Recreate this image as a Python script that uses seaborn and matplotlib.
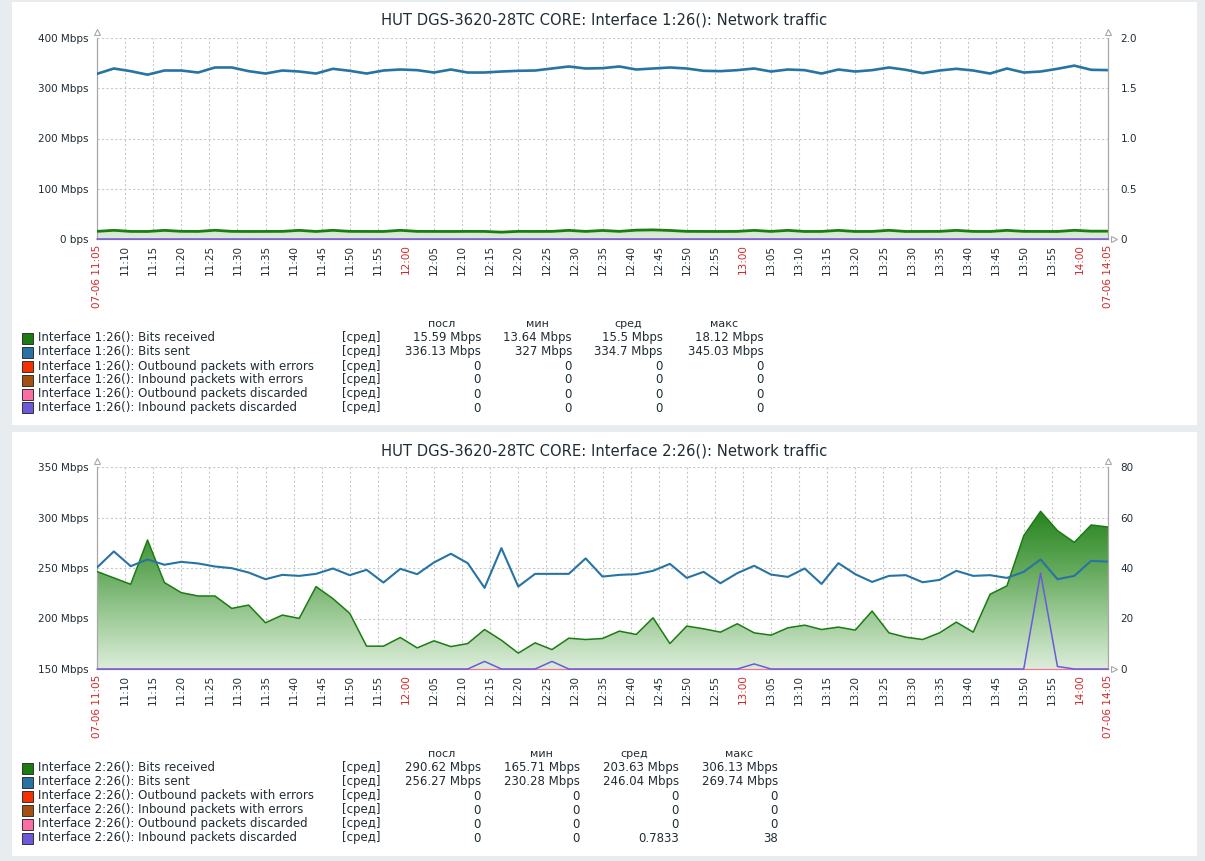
import numpy as np
import pandas as pd
import matplotlib
matplotlib.use("Agg")
import matplotlib.pyplot as plt
import matplotlib.dates as mdates
from matplotlib.colors import LinearSegmentedColormap
from matplotlib.patches import Rectangle
import seaborn as sns

# one sample every 3 minutes, 07-06 11:05 .. 14:05
times = pd.date_range("2023-07-06 11:05", "2023-07-06 14:05", freq="3min")
tick_times = pd.date_range("2023-07-06 11:05", "2023-07-06 14:05", freq="5min")

# Interface 1:26 (Mbps)
if1_received = [15.2, 17.3, 15.1, 15.0, 17.2, 15.3, 15.1, 17.4, 15.2, 15.0,
                15.1, 15.2, 17.2, 15.0, 17.3, 15.2, 15.1, 15.0, 17.3, 15.2,
                15.1, 15.0, 15.2, 15.1, 13.64, 15.2, 15.1, 15.2, 17.2, 15.1,
                17.0, 15.2, 17.6, 18.12, 17.0, 15.2, 15.1, 15.0, 15.2, 17.2,
                15.1, 17.2, 15.0, 15.1, 17.2, 15.0, 15.1, 17.3, 15.0, 15.1,
                15.2, 17.2, 15.1, 15.0, 17.2, 15.2, 15.1, 15.0, 17.3, 15.6, 15.59]
if1_sent = [328.7, 339.3, 334.0, 327.0, 335.3, 335.3, 331.3, 341.3, 341.3, 334.0,
            329.3, 335.3, 333.3, 329.3, 338.7, 334.7, 329.3, 335.3, 337.3, 336.0,
            331.3, 337.3, 331.3, 331.3, 333.3, 334.7, 335.3, 339.3, 343.3, 339.3,
            340.0, 343.3, 337.3, 339.3, 341.3, 339.3, 334.7, 334.0, 336.0, 339.3,
            333.3, 337.3, 336.0, 329.3, 337.3, 333.3, 336.0, 341.3, 336.7, 330.0,
            335.3, 338.7, 335.3, 329.3, 339.3, 331.3, 333.3, 338.7, 345.0, 336.7, 336.1]

# Interface 2:26 (Mbps), discarded packets on the right axis
if2_received = [246.5, 240.2, 233.9, 277.7, 235.6, 225.6, 222.3, 222.3, 210.0, 213.3,
                195.8, 203.4, 200.1, 231.6, 219.7, 205.1, 172.6, 172.6, 181.2, 170.9,
                177.9, 172.2, 175.2, 189.1, 178.5, 165.7, 175.9, 169.2, 180.5, 179.2,
                180.2, 187.5, 184.2, 200.7, 175.2, 192.5, 189.8, 186.5, 194.8, 185.8,
                183.5, 190.8, 193.4, 189.1, 191.5, 188.5, 207.4, 185.8, 181.5, 179.2,
                185.8, 196.4, 186.5, 224.0, 232.3, 282.0, 306.1, 287.0, 275.4, 292.6, 290.6]
if2_sent = [250.5, 266.4, 251.8, 258.5, 253.2, 256.1, 254.5, 251.5, 249.8, 245.5,
            238.9, 243.2, 242.2, 244.2, 249.5, 242.9, 248.2, 235.6, 249.2, 243.9,
            255.5, 264.1, 254.8, 230.3, 269.7, 231.6, 244.2, 244.2, 244.2, 259.5,
            241.5, 243.2, 243.9, 247.2, 254.1, 240.2, 246.2, 234.9, 244.9, 252.2,
            243.5, 241.2, 249.5, 234.2, 254.8, 243.9, 236.2, 242.2, 242.9, 235.9,
            238.2, 247.2, 242.2, 242.9, 240.2, 246.2, 258.5, 238.9, 242.2, 257.1, 256.3]
if2_in_discarded = [0, 0, 0, 0, 0, 0, 0, 0, 0, 0,
                    0, 0, 0, 0, 0, 0, 0, 0, 0, 0,
                    0, 0, 0, 3, 0, 0, 0, 3, 0, 0,
                    0, 0, 0, 0, 0, 0, 0, 0, 0, 2,
                    0, 0, 0, 0, 0, 0, 0, 0, 0, 0,
                    0, 0, 0, 0, 0, 0, 38, 1, 0, 0, 0]
zero_series = [0] * len(times)

series_names = ["Bits received", "Bits sent", "Outbound packets with errors",
                "Inbound packets with errors", "Outbound packets discarded",
                "Inbound packets discarded"]
series_colors = ["#1A7C11", "#2774A4", "#F63100", "#A54F10", "#FC6EA3", "#6C59DC"]

stat_headers = ["посл", "мин", "сред", "макс"]
if1_stats = [["15.59 Mbps", "13.64 Mbps", "15.5 Mbps", "18.12 Mbps"],
             ["336.13 Mbps", "327 Mbps", "334.7 Mbps", "345.03 Mbps"],
             ["0", "0", "0", "0"], ["0", "0", "0", "0"],
             ["0", "0", "0", "0"], ["0", "0", "0", "0"]]
if2_stats = [["290.62 Mbps", "165.71 Mbps", "203.63 Mbps", "306.13 Mbps"],
             ["256.27 Mbps", "230.28 Mbps", "246.04 Mbps", "269.74 Mbps"],
             ["0", "0", "0", "0"], ["0", "0", "0", "0"],
             ["0", "0", "0", "0"], ["0", "0", "0.7833", "38"]]

if1_left_ticks = [0, 100, 200, 300, 400]
if1_left_labels = ["0 bps", "100 Mbps", "200 Mbps", "300 Mbps", "400 Mbps"]
if1_right_ticks = [0, 0.5, 1.0, 1.5, 2.0]
if1_right_labels = ["0", "0.5", "1.0", "1.5", "2.0"]
if2_left_ticks = [150, 200, 250, 300, 350]
if2_left_labels = ["150 Mbps", "200 Mbps", "250 Mbps", "300 Mbps", "350 Mbps"]
if2_right_ticks = [0, 20, 40, 60, 80]
if2_right_labels = ["0", "20", "40", "60", "80"]

W, H = 1205, 861
TEXT = "#1f2c33"
RED = "#d02828"

sns.set_theme(style="white")
plt.rcParams["font.family"] = ["DejaVu Sans"]

fig = plt.figure(figsize=(W / 100, H / 100), dpi=100, facecolor="#e9ecee")


def px_box(x0, y0, x1, y1):
    return [x0 / W, 1 - y1 / H, (x1 - x0) / W, (y1 - y0) / H]


# white panels
for y0, y1 in [(2, 425), (432, 856)]:
    fig.patches.append(Rectangle((12 / W, 1 - y1 / H), (1197 - 12) / W, (y1 - y0) / H,
                                 transform=fig.transFigure, facecolor="white",
                                 edgecolor="none", zorder=-5))

# gradient runs over the whole plot height: pale at the bottom, dark green at the top
green_cmap = LinearSegmentedColormap.from_list(
    "grad", [(0.0, "#dcedd9"), (0.25, "#a0cc9a"), (0.5, "#62a85a"),
             (0.75, "#2d8825"), (1.0, "#1a7c11")])


def draw_graph(box, title, title_y, received, sent, discarded, ylim, lticks, llabels,
               rlim, rticks, rlabels, lw):
    ax = fig.add_axes(px_box(*box))
    axr = ax.twinx()

    # gradient filled area under "bits received"
    poly = ax.fill_between(times, ylim[0], received, facecolor="none", edgecolor="none")
    grad = np.linspace(0, 1, 256).reshape(-1, 1)
    x0, x1 = mdates.date2num(times[0]), mdates.date2num(times[-1])
    im = ax.imshow(grad, extent=[x0, x1, ylim[0], ylim[1]], origin="lower",
                   aspect="auto", cmap=green_cmap, zorder=1)
    im.set_clip_path(poly.get_paths()[0], transform=ax.transData)

    sns.lineplot(x=times, y=received, ax=ax, color=series_colors[0], lw=lw[0], zorder=3)
    sns.lineplot(x=times, y=sent, ax=ax, color=series_colors[1], lw=lw[1], zorder=4)
    # packet series sit on the right axis; the flat ones hide under the last one
    for c in series_colors[2:5]:
        sns.lineplot(x=times, y=zero_series, ax=axr, color=c, lw=0.7, zorder=3)
    sns.lineplot(x=times, y=discarded, ax=axr, color=series_colors[5], lw=1.1, zorder=4)
    for line in axr.lines:
        line.set_clip_on(False)

    ax.set_xlim(times[0], times[-1])
    ax.set_ylim(*ylim)
    axr.set_ylim(*rlim)
    ax.set_xlabel("")
    ax.set_ylabel("")
    axr.set_ylabel("")

    ax.set_yticks(lticks)
    ax.set_yticklabels(llabels, fontsize=7.5, color=TEXT)
    axr.set_yticks(rticks)
    axr.set_yticklabels(rlabels, fontsize=7.5, color=TEXT)

    ax.set_xticks(tick_times)
    labels, colors = [], []
    for i, t in enumerate(tick_times):
        edge = i == 0 or i == len(tick_times) - 1
        labels.append(t.strftime("%m-%d %H:%M") if edge else t.strftime("%H:%M"))
        colors.append(RED if edge or t.minute == 0 else TEXT)
    ax.set_xticklabels(labels, rotation=90, fontsize=7.5)
    for lbl, c in zip(ax.get_xticklabels(), colors):
        lbl.set_color(c)

    ax.tick_params(length=0, pad=6)
    ax.tick_params(axis="x", pad=4)
    axr.tick_params(length=0, pad=9)

    ax.set_axisbelow(True)
    ax.grid(True, color="#c9c9c9", linestyle=(0, (2, 2)), lw=0.8)
    axr.grid(False)

    for s in ["top", "right"]:
        ax.spines[s].set_visible(False)
    for s in ["top", "left", "bottom"]:
        axr.spines[s].set_visible(False)
    for sp in [ax.spines["left"], ax.spines["bottom"], axr.spines["right"]]:
        sp.set_color("#a8a8a8")
        sp.set_linewidth(0.9)

    arrow = dict(transform=ax.transAxes, clip_on=False, ms=5, mfc="white",
                 mec="#a8a8a8", mew=0.8, ls="none", zorder=10)
    ax.plot([0, 1], [1.03, 1.03], marker="^", **arrow)
    ax.plot([1.006], [0], marker=">", **arrow)

    fig.text(604 / W, 1 - title_y / H, title, ha="center", va="center",
             fontsize=10.6, color=TEXT)


def draw_table(y_header, prefix, stats, col_head, col_right):
    for h, xc in zip(stat_headers, col_head):
        fig.text(xc / W, 1 - y_header / H, h, ha="center", va="center",
                 fontsize=8, color=TEXT)
    for i, (name, color, row) in enumerate(zip(series_names, series_colors, stats)):
        y = y_header + 14 * (i + 1)
        fig.patches.append(Rectangle((22 / W, 1 - (y + 5.5) / H), 11 / W, 11 / H,
                                     transform=fig.transFigure, facecolor=color,
                                     edgecolor="#333333", lw=0.7))
        fig.text(38 / W, 1 - y / H, f"{prefix}: {name}", ha="left", va="center",
                 fontsize=8.5, color=TEXT)
        fig.text(342 / W, 1 - y / H, "[сред]", ha="left", va="center",
                 fontsize=8.5, color=TEXT)
        for v, xr in zip(row, col_right):
            fig.text(xr / W, 1 - y / H, v, ha="right", va="center",
                     fontsize=8.5, color=TEXT)


draw_graph((97, 38, 1108, 239), "HUT DGS-3620-28TC CORE: Interface 1:26(): Network traffic", 20,
           if1_received, if1_sent, zero_series, (0, 400), if1_left_ticks, if1_left_labels,
           (0, 2.0), if1_right_ticks, if1_right_labels, (2.0, 1.9))
draw_graph((97, 467, 1108, 669), "HUT DGS-3620-28TC CORE: Interface 2:26(): Network traffic", 451,
           if2_received, if2_sent, if2_in_discarded, (150, 350), if2_left_ticks, if2_left_labels,
           (0, 80), if2_right_ticks, if2_right_labels, (1.1, 1.5))

draw_table(324, "Interface 1:26()", if1_stats, [442, 537, 628, 724], [481, 572, 663, 764])
draw_table(754, "Interface 2:26()", if2_stats, [442, 541, 634, 739], [481, 580, 679, 778])

fig.savefig("out.png", dpi=100, facecolor=fig.get_facecolor())
